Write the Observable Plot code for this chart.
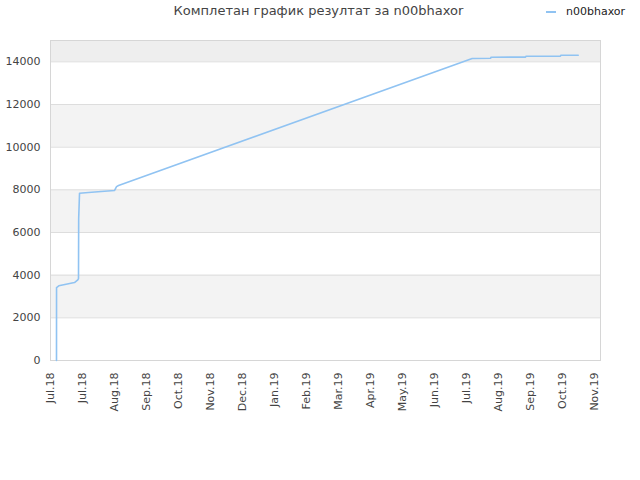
<!DOCTYPE html>
<html><head><meta charset="utf-8">
<script src="https://cdn.jsdelivr.net/npm/d3@7"></script>
<script src="https://cdn.jsdelivr.net/npm/@observablehq/plot@0.6"></script>
<style>
body{margin:0;background:#fff;font-family:"DejaVu Sans",sans-serif;}
#wrap{position:relative;width:640px;height:480px;}
#head{position:relative;height:26px;}
#title{position:absolute;left:0;width:637px;top:3px;text-align:center;font-size:13px;color:#444;white-space:nowrap;}
#legend{position:absolute;left:546px;top:5px;font-size:11px;color:#222;display:flex;align-items:center;white-space:nowrap;}
#legend .sw{display:inline-block;width:10px;height:2px;background:#90c3f2;margin-right:10px;}
</style></head>
<body>
<div id="wrap">
  <div id="head">
    <div id="title">Комплетан график резултат за n00bhaxor</div>
    <div id="legend"><span class="sw"></span><span id="legname"></span></div>
  </div>
  <div id="chart"></div>
</div>
<script>
const seriesName = "n00bhaxor";
const dates = [
  "2018-07-06T15:00Z","2018-07-06T16:00Z","2018-07-08T19:00Z","2018-07-23T12:00Z",
  "2018-07-26T14:00Z","2018-07-27T06:00Z","2018-07-27T10:00Z","2018-07-28T05:00Z",
  "2018-08-05T15:00Z","2018-08-20T15:00Z","2018-08-30T02:00Z","2018-08-31T22:00Z",
  "2018-09-02T19:00Z","2019-07-31T07:00Z","2019-08-17T12:00Z","2019-08-18T00:00Z",
  "2019-09-19T07:00Z","2019-09-19T19:00Z","2019-10-22T00:00Z","2019-10-22T12:00Z",
  "2019-11-07T17:00Z"
];
const scores = [
  0, 3420, 3500, 3656,
  3780, 3840, 6650, 7840,
  7875, 7935, 7970, 8150,
  8200, 14156, 14165, 14217,
  14222, 14264, 14268, 14310,
  14312
];
const tickDates = [
  "2018-07-01","2018-07-31","2018-08-30","2018-09-29","2018-10-29","2018-11-28",
  "2018-12-28","2019-01-27","2019-02-26","2019-03-28","2019-04-27","2019-05-27",
  "2019-06-26","2019-07-26","2019-08-25","2019-09-24","2019-10-24","2019-11-23"
];
const tickLabels = [
  "Jul.18","Jul.18","Aug.18","Sep.18","Oct.18","Nov.18",
  "Dec.18","Jan.19","Feb.19","Mar.19","Apr.19","May.19",
  "Jun.19","Jul.19","Aug.19","Sep.19","Oct.19","Nov.19"
];
const yTicks = [0, 2000, 4000, 6000, 8000, 10000, 12000, 14000];
const lightBands = [[2000, 4000], [6000, 8000], [10000, 12000]];
const topBand = [[14000, 15000]];
const xDomain = ["2018-07-01T00:00Z", "2019-11-28T14:00Z"];
const yDomain = [0, 15000];

document.getElementById("legname").textContent = seriesName;

const data = dates.map((d, i) => ({date: new Date(d), score: scores[i]}));
const tDates = tickDates.map(d => new Date(d));

const chart = Plot.plot({
  width: 640,
  height: 454,
  marginTop: 14,
  marginLeft: 50,
  marginRight: 40,
  marginBottom: 120,
  style: {fontFamily: "DejaVu Sans, sans-serif", fontSize: "11px", color: "#444", background: "#fff"},
  x: {type: "utc", domain: xDomain.map(d => new Date(d))},
  y: {domain: yDomain},
  marks: [
    Plot.rect(lightBands, {y1: d => d[0], y2: d => d[1], fill: "#f3f3f3"}),
    Plot.rect(topBand, {y1: d => d[0], y2: d => d[1], fill: "#eeeeee"}),
    Plot.ruleY(yTicks.slice(1), {stroke: "#dddddd"}),
    Plot.frame({stroke: "#d6d6d6"}),
    Plot.line(data, {x: "date", y: "score", stroke: "#90c3f2", strokeWidth: 1.6}),
    Plot.axisY({ticks: yTicks, tickSize: 0, tickPadding: 10, label: null, tickFormat: d => String(d)}),
    Plot.axisX({ticks: tDates, tickSize: 0, tickPadding: 12, tickRotate: -90, label: null,
      tickFormat: d => tickLabels[tDates.findIndex(t => +t === +d)]})
  ]
});
document.getElementById("chart").appendChild(chart);
</script>
</body></html>
